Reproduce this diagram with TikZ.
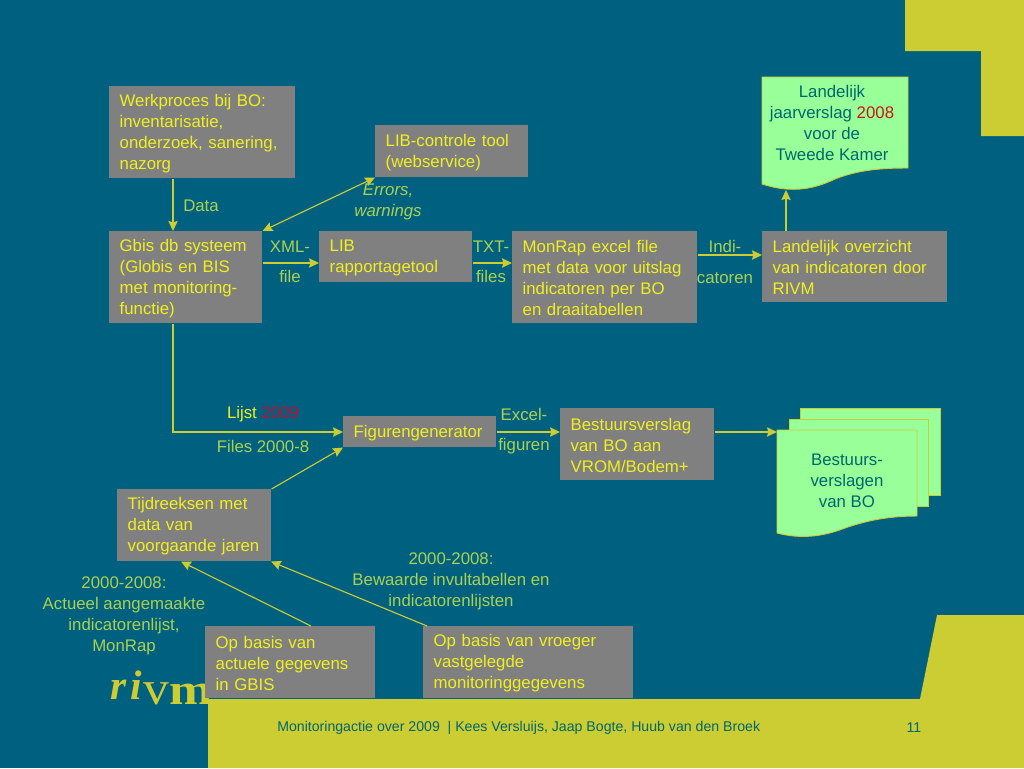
\documentclass[tikz,border=0pt]{standalone}
\usepackage{fontspec}
\setmainfont{Liberation Sans}
\newfontfamily\logofont{Liberation Serif}[LetterSpace=10]
\usetikzlibrary{arrows.meta}
\definecolor{bg}{RGB}{0,96,128}
\definecolor{olive}{RGB}{204,204,51}
\definecolor{boxgrey}{RGB}{128,128,128}
\definecolor{boxtext}{RGB}{240,240,30}
\definecolor{lab}{RGB}{170,210,80}
\definecolor{paper}{RGB}{153,255,153}
\definecolor{ink}{RGB}{0,102,110}
\definecolor{redtxt}{RGB}{204,20,20}
\definecolor{crim}{RGB}{190,15,50}
\newcommand{\txt}{\fontsize{12.6}{15.75}\selectfont}
\tikzset{
  gbox/.style 2 args={fill=boxgrey,draw=none,anchor=north west,inner xsep=7.8pt,inner ysep=0pt,
    minimum width=#1*0.75pt,minimum height=#2*0.75pt,text width=#1*0.75pt-15.6pt,
    align=left,text=boxtext,font=\txt,execute at begin node={\rule{0pt}{10.8pt}}},
  lbl/.style={text=lab,font=\txt,align=center,inner sep=0pt},
  doclbl/.style={text=ink,font=\txt,align=center,inner sep=0pt},
  conn/.style={draw=olive,line width=0.85pt,-{Stealth[length=7.5pt,width=7pt,inset=1pt]}},
  paperedge/.style={fill=paper,draw=olive,line width=0.7pt},
  foot/.style={text=ink,font=\fontsize{10.6}{13}\selectfont,inner sep=0pt}
}
\begin{document}
\begin{tikzpicture}[x=0.75pt,y=-0.75pt]
\useasboundingbox (0,0) rectangle (1024,768);
\fill[bg] (0,0) rectangle (1024,768);
% decoration
\fill[olive] (905,0) -- (1024,0) -- (1024,136) -- (981,136) -- (981,51) -- (905,51) -- cycle;
\node[anchor=base west,inner sep=0pt,text=olive,font=\fontsize{31}{34}\logofont] (logo) at (110,699) {\bfseries\itshape ri\hspace{1.5pt}\mdseries\upshape\raisebox{-4pt}{\scalebox{1.25}[1.15]{v}}\bfseries\raisebox{-4pt}{\scalebox{1.25}[1.05]{m}}};
\fill[olive] (208,699) -- (920,699) -- (937,615) -- (1024,615) -- (1024,768) -- (208,768) -- cycle;
\node[foot,anchor=west] (footer) at (277,728) {Monitoringactie over 2009~~| Kees Versluijs, Jaap Bogte, Huub van den Broek};
\node[foot,anchor=center] (pageno) at (914,728) {11};
% boxes
\node[gbox={186}{92}] (werk) at (109,86) {Werkproces bij BO:\\inventarisatie,\\onderzoek, sanering,\\nazorg};
\node[gbox={153}{52}] (ctrl) at (375,125) {LIB-controle tool\\(webservice)};
\node[gbox={153}{92}] (gbis) at (109,231) {Gbis db systeem\\(Globis en BIS\\met monitoring-\\functie)};
\node[gbox={153}{51}] (lib) at (319,231) {LIB\\rapportagetool};
\node[gbox={185}{92}] (monrap) at (512,231) {MonRap excel file\\met data voor uitslag\\indicatoren per BO\\en draaitabellen};
\node[gbox={185}{71}] (overz) at (762,231) {Landelijk overzicht\\van indicatoren door\\RIVM};
\node[gbox={153}{31}] (fig) at (343,416) {Figurengenerator};
\node[gbox={154}{72}] (best) at (560,408) {Bestuursverslag\\van BO aan\\VROM/Bodem+};
\node[gbox={154}{72}] (tijd) at (117,489) {Tijdreeksen met\\data van\\voorgaande jaren};
\node[gbox={170}{72}] (actu) at (205,626) {Op basis van\\actuele gegevens\\in GBIS};
\node[gbox={210}{72}] (vroeg) at (423,626) {Op basis van vroeger\\vastgelegde\\monitoringgegevens};
% documents
\path[paperedge] (762,77) -- (908,77) -- (908,168) .. controls (880,168) and (858,170) .. (835,179) .. controls (812,190) and (790,193) .. (762,184) -- cycle;
\node[doclbl] (jaar) at (832,123) {Landelijk\\jaarverslag \textcolor{redtxt}{2008}\\voor de\\Tweede Kamer};
\coordinate (jaarbottom) at (786,190);
\path[paperedge] (800,408) rectangle (940,495);
\path[paperedge] (789,419) rectangle (928,506);
\path[paperedge] (777,430) -- (917,430) -- (917,516) .. controls (890,516) and (868,520) .. (845,528) .. controls (822,537) and (800,539) .. (777,533) -- cycle;
\node[doclbl] (bver) at (847,481) {Bestuurs-\\verslagen\\van BO};
\coordinate (bvleft) at (777,432);
% helper positions
\coordinate (xa) at (173,0);
\coordinate (ya) at (0,263);
\coordinate (yb) at (0,255);
\coordinate (xb) at (786,0);
\coordinate (yc) at (0,432);
\coordinate (xc) at (311,0);
\coordinate (xd) at (181,0);
\coordinate (xe) at (427,0);
\coordinate (xf) at (271,0);
% connectors
\draw[conn] (werk.south -| xa) -- (gbis.north -| xa);
\draw[conn,{Stealth[length=7.5pt,width=7pt,inset=1pt]}-{Stealth[length=7.5pt,width=7pt,inset=1pt]}] (ctrl.south west) -- (gbis.north east);
\draw[conn] (gbis.east |- ya) -- (lib.west |- ya);
\draw[conn] (lib.east |- ya) -- (monrap.west |- ya);
\draw[conn] (monrap.east |- yb) -- (overz.west |- yb);
\draw[conn] (overz.north -| xb) -- (jaarbottom);
\draw[conn] (gbis.south -| xa) -- (xa |- yc) -- (fig.west |- yc);
\draw[conn] (fig.east |- yc) -- (best.west |- yc);
\draw[conn] (best.east |- yc) -- (bvleft);
\draw[conn] (tijd.north east) -- (fig.south west);
\draw[conn] (actu.north -| xc) -- (tijd.south -| xd);
\draw[conn] (vroeg.north -| xe) -- (tijd.south -| xf);
% labels
\node[lbl] (ldata) at (201,206) {Data};
\node[lbl,font=\txt\itshape] (lerr) at (388,202) {Errors,\\warnings};
\node[lbl] (lxml) at (290,262) {XML-\\[0.55em]file};
\node[lbl] (ltxt) at (491,262) {TXT-\\[0.55em]files};
\node[lbl] (lind) at (725,262) {Indi-\\[0.55em]catoren};
\node[text=boxtext,font=\txt,inner sep=0pt] (llijst) at (263,414) {Lijst \textcolor{crim}{2009}};
\node[lbl] (lfiles) at (263,446) {Files 2000-8};
\node[lbl] (lexcel) at (524,431) {Excel-\\[0.55em]figuren};
\node[lbl] (lbew) at (451,581) {2000-2008:\\Bewaarde invultabellen en\\indicatorenlijsten};
\node[lbl] (lact) at (124,616) {2000-2008:\\Actueel aangemaakte\\indicatorenlijst,\\MonRap};
\end{tikzpicture}
\end{document}
